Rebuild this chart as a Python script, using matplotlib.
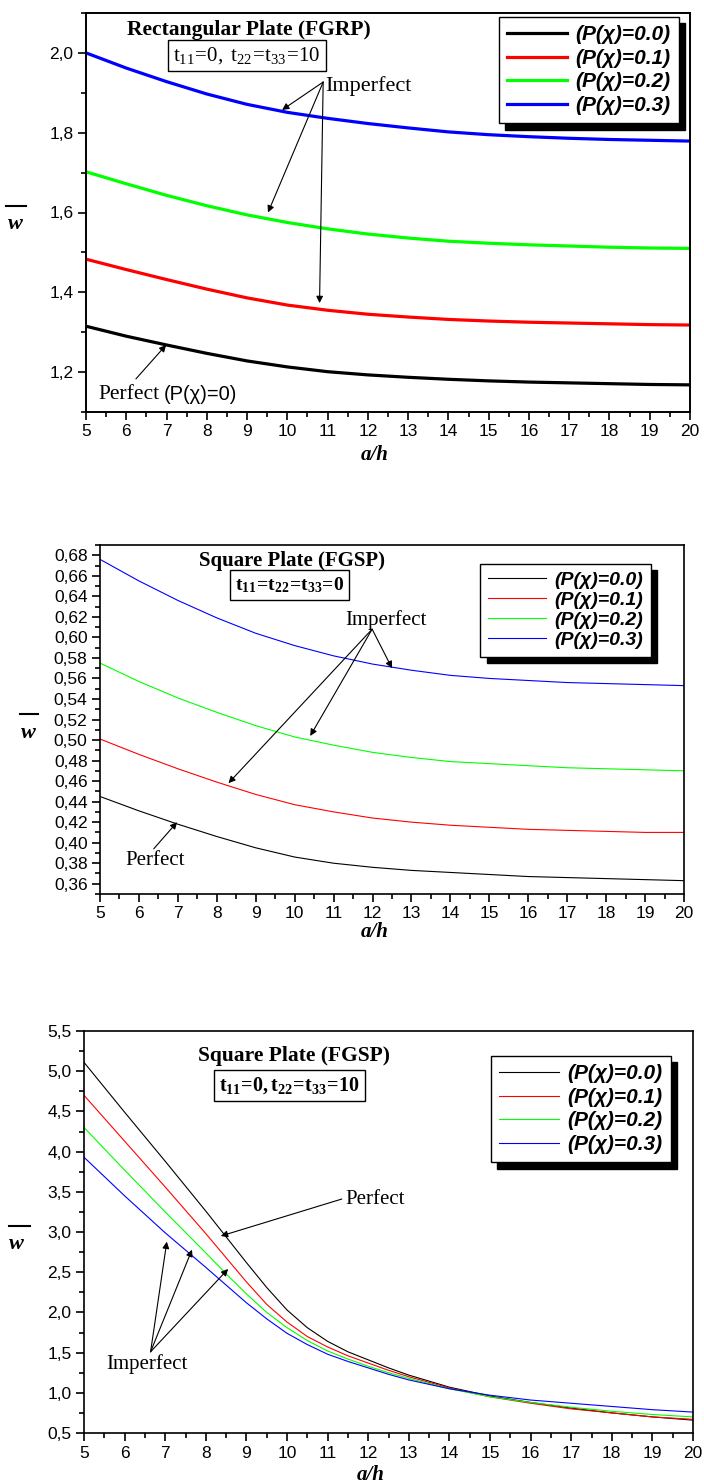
import numpy as np
import matplotlib
matplotlib.use('Agg')
import matplotlib.pyplot as plt
from matplotlib.ticker import MultipleLocator, FuncFormatter
from matplotlib.lines import Line2D

a_h = [5, 6, 7, 8, 9, 10, 11, 12, 13, 14, 15, 16, 17, 18, 19, 20]
labels = ['(P(χ)=0.0)', '(P(χ)=0.1)', '(P(χ)=0.2)', '(P(χ)=0.3)']
colors = ['black', 'red', '#00ff00', 'blue']

# rectangular plate FGRP, t11=0, t22=t33=10
rect_p0 = [1.315, 1.290, 1.268, 1.247, 1.228, 1.213, 1.201, 1.193, 1.187, 1.182, 1.178, 1.175, 1.173, 1.171, 1.169, 1.168]
rect_p1 = [1.483, 1.457, 1.432, 1.408, 1.386, 1.368, 1.355, 1.345, 1.338, 1.332, 1.328, 1.325, 1.323, 1.321, 1.319, 1.318]
rect_p2 = [1.702, 1.672, 1.643, 1.617, 1.594, 1.575, 1.559, 1.546, 1.536, 1.528, 1.523, 1.519, 1.516, 1.513, 1.511, 1.510]
rect_p3 = [2.000, 1.962, 1.928, 1.897, 1.871, 1.851, 1.836, 1.823, 1.812, 1.802, 1.795, 1.790, 1.786, 1.783, 1.781, 1.779]

# square plate FGSP, t11=t22=t33=0
sq0_p0 = [0.445, 0.431, 0.418, 0.406, 0.395, 0.386, 0.380, 0.376, 0.373, 0.371, 0.369, 0.367, 0.366, 0.365, 0.364, 0.363]
sq0_p1 = [0.501, 0.486, 0.472, 0.459, 0.447, 0.437, 0.430, 0.424, 0.420, 0.417, 0.415, 0.413, 0.412, 0.411, 0.410, 0.410]
sq0_p2 = [0.575, 0.557, 0.541, 0.527, 0.514, 0.503, 0.495, 0.488, 0.483, 0.479, 0.477, 0.475, 0.473, 0.472, 0.471, 0.470]
sq0_p3 = [0.676, 0.655, 0.636, 0.619, 0.604, 0.592, 0.582, 0.574, 0.568, 0.563, 0.560, 0.558, 0.556, 0.555, 0.554, 0.553]

# square plate FGSP, t11=0, t22=t33=10 (read at finer a/h where the curves bend)
a_h_fine = [5, 6, 7, 8, 8.5, 9, 9.5, 10, 10.5, 11, 11.5, 12, 12.5, 13, 14, 15, 16, 17, 18, 19, 20]
sq10_p0 = [5.11, 4.49, 3.88, 3.26, 2.94, 2.62, 2.31, 2.03, 1.81, 1.64, 1.51, 1.41, 1.31, 1.22, 1.07, 0.96, 0.88, 0.81, 0.75, 0.70, 0.66]
sq10_p1 = [4.70, 4.13, 3.56, 2.98, 2.68, 2.38, 2.10, 1.88, 1.70, 1.57, 1.46, 1.37, 1.28, 1.20, 1.06, 0.95, 0.87, 0.80, 0.75, 0.70, 0.67]
sq10_p2 = [4.30, 3.77, 3.25, 2.74, 2.48, 2.23, 2.00, 1.81, 1.65, 1.52, 1.42, 1.33, 1.25, 1.18, 1.05, 0.95, 0.88, 0.82, 0.77, 0.73, 0.70]
sq10_p3 = [3.93, 3.45, 2.99, 2.56, 2.34, 2.12, 1.92, 1.74, 1.60, 1.48, 1.39, 1.31, 1.23, 1.16, 1.05, 0.97, 0.91, 0.87, 0.83, 0.79, 0.76]

plt.rcParams['font.family'] = 'Liberation Sans'
plt.rcParams['mathtext.fontset'] = 'custom'
plt.rcParams['mathtext.rm'] = 'Liberation Serif'
plt.rcParams['mathtext.bf'] = 'Liberation Serif:bold'
plt.rcParams['mathtext.it'] = 'Liberation Serif:italic'

serif = 'Liberation Serif'
W, H = 704, 1483

fig = plt.figure(figsize=(W / 100, H / 100), dpi=100)
ax1 = fig.add_axes([86 / W, 1 - 412 / H, 604 / W, 399 / H])
ax2 = fig.add_axes([100 / W, 1 - 894 / H, 584 / W, 349 / H])
ax3 = fig.add_axes([84 / W, 1 - 1433 / H, 609 / W, 402 / H])


def style(ax, ylim, ymaj, ymin, fmt, spw):
    ax.set_xlim(5, 20)
    ax.set_ylim(*ylim)
    ax.xaxis.set_major_locator(MultipleLocator(1))
    ax.xaxis.set_minor_locator(MultipleLocator(0.5))
    ax.yaxis.set_major_locator(MultipleLocator(ymaj))
    ax.yaxis.set_minor_locator(MultipleLocator(ymin))
    ax.yaxis.set_major_formatter(FuncFormatter(lambda v, p: (fmt % v).replace('.', ',')))
    ax.tick_params(which='both', direction='out', top=False, right=False, width=1.2, labelsize=12.5)
    ax.tick_params(which='major', length=6, pad=3)
    ax.tick_params(which='minor', length=3.5)
    for sp in ax.spines.values():
        sp.set_linewidth(spw)


def legend(ax, anchor, size, hl, ls):
    leg = ax.legend(loc='upper right', bbox_to_anchor=anchor, borderaxespad=0,
                    prop=dict(family='Liberation Sans', weight='bold', style='italic', size=size),
                    fancybox=False, edgecolor='black', framealpha=1, handlelength=hl,
                    labelspacing=ls, handletextpad=0.4, borderpad=0.4,
                    shadow={'ox': 4.5, 'oy': -4.5, 'facecolor': 'black', 'edgecolor': 'black', 'alpha': 1})
    leg.get_frame().set_linewidth(1.0)


def arrow(ax, tail, head):
    ax.annotate('', xy=head, xytext=tail,
                arrowprops=dict(arrowstyle='-|>', color='black', lw=0.8, mutation_scale=10,
                                shrinkA=0, shrinkB=0))


def wlabel(xc, yc, x0, x1, ybar):
    fig.text(xc / W, 1 - yc / H, 'w', family=serif, weight='bold', style='italic',
             fontsize=16, ha='center', va='center')
    fig.add_artist(Line2D([x0 / W, x1 / W], [1 - ybar / H] * 2, transform=fig.transFigure,
                          color='black', lw=1.5))


def xlabel(ax, xf, yf):
    ax.text(xf, yf, 'a/h', transform=ax.transAxes, family=serif, weight='bold', style='italic',
            fontsize=15, ha='center', va='center')


# ---- top panel
for y, c, l in zip([rect_p0, rect_p1, rect_p2, rect_p3], colors, labels):
    ax1.plot(a_h, y, color=c, lw=2.3, label=l)
style(ax1, (1.1, 2.1), 0.2, 0.1, '%.1f', 1.4)
legend(ax1, (0.982, 0.99), 15, 2.9, 0.22)
ax1.text(9.05, 2.057, 'Rectangular Plate (FGRP)', family=serif, weight='bold', fontsize=15.5,
         ha='center', va='center')
ax1.text(9.0, 1.993, r'$\mathrm{t_{11}\!=\!0,\ t_{22}\!=\!t_{33}\!=\!10}$', fontsize=15,
         ha='center', va='center',
         bbox=dict(boxstyle='square,pad=0.25', facecolor='white', edgecolor='black', lw=1))
ax1.text(10.93, 1.917, 'Imperfect', family=serif, fontsize=16, ha='left', va='center')
arrow(ax1, (10.89, 1.927), (9.87, 1.857))
arrow(ax1, (10.89, 1.927), (9.52, 1.600))
arrow(ax1, (10.89, 1.927), (10.80, 1.373))
ax1.text(5.32, 1.143, 'Perfect', family=serif, fontsize=15.5, ha='left', va='center')
ax1.text(6.92, 1.143, '(P(χ)=0)', fontsize=14.5, ha='left', va='center')
arrow(ax1, (6.24, 1.183), (6.99, 1.268))
xlabel(ax1, 0.478, -0.108)
wlabel(15, 224, 6, 26, 206)

# ---- middle panel
for y, c, l in zip([sq0_p0, sq0_p1, sq0_p2, sq0_p3], colors, labels):
    ax2.plot(a_h, y, color=c, lw=0.8, label=l)
style(ax2, (0.35, 0.69), 0.02, 0.01, '%.2f', 1.2)
legend(ax2, (0.943, 0.946), 14, 3.0, 0.12)
ax2.text(9.93, 0.674, 'Square Plate (FGSP)', family=serif, weight='bold', fontsize=15,
         ha='center', va='center')
ax2.text(9.87, 0.651, r'$\mathbf{t_{11}\!=\!t_{22}\!=\!t_{33}\!=\!0}$', fontsize=14,
         ha='center', va='center',
         bbox=dict(boxstyle='square,pad=0.25', facecolor='white', edgecolor='black', lw=1))
ax2.text(12.35, 0.617, 'Imperfect', family=serif, fontsize=15, ha='center', va='center')
arrow(ax2, (11.99, 0.608), (12.50, 0.570))
arrow(ax2, (11.99, 0.608), (10.40, 0.504))
arrow(ax2, (11.99, 0.608), (8.30, 0.458))
ax2.text(6.42, 0.383, 'Perfect', family=serif, fontsize=15, ha='center', va='center')
arrow(ax2, (6.38, 0.394), (6.98, 0.420))
xlabel(ax2, 0.471, -0.109)
wlabel(28, 733, 20, 38, 714)

# ---- bottom panel
for y, c, l in zip([sq10_p0, sq10_p1, sq10_p2, sq10_p3], colors, labels):
    ax3.plot(a_h_fine, y, color=c, lw=0.8, label=l)
style(ax3, (0.5, 5.5), 0.5, 0.25, '%.1f', 1.2)
legend(ax3, (0.964, 0.938), 15, 2.9, 0.22)
ax3.text(10.17, 5.19, 'Square Plate (FGSP)', family=serif, weight='bold', fontsize=15.5,
         ha='center', va='center')
ax3.text(10.07, 4.82, r'$\mathbf{t_{11}\!=\!0,t_{22}\!=\!t_{33}\!=\!10}$', fontsize=14.5,
         ha='center', va='center',
         bbox=dict(boxstyle='square,pad=0.25', facecolor='white', edgecolor='black', lw=1))
ax3.text(11.45, 3.41, 'Perfect', family=serif, fontsize=15, ha='left', va='center')
arrow(ax3, (11.35, 3.41), (8.37, 2.95))
ax3.text(6.54, 1.36, 'Imperfect', family=serif, fontsize=15, ha='center', va='center')
arrow(ax3, (6.64, 1.51), (7.04, 2.88))
arrow(ax3, (6.64, 1.51), (7.66, 2.78))
arrow(ax3, (6.64, 1.51), (8.55, 2.54))
xlabel(ax3, 0.47, -0.104)
wlabel(16, 1244, 9, 30, 1226)

plt.savefig('out.png', dpi=100)
